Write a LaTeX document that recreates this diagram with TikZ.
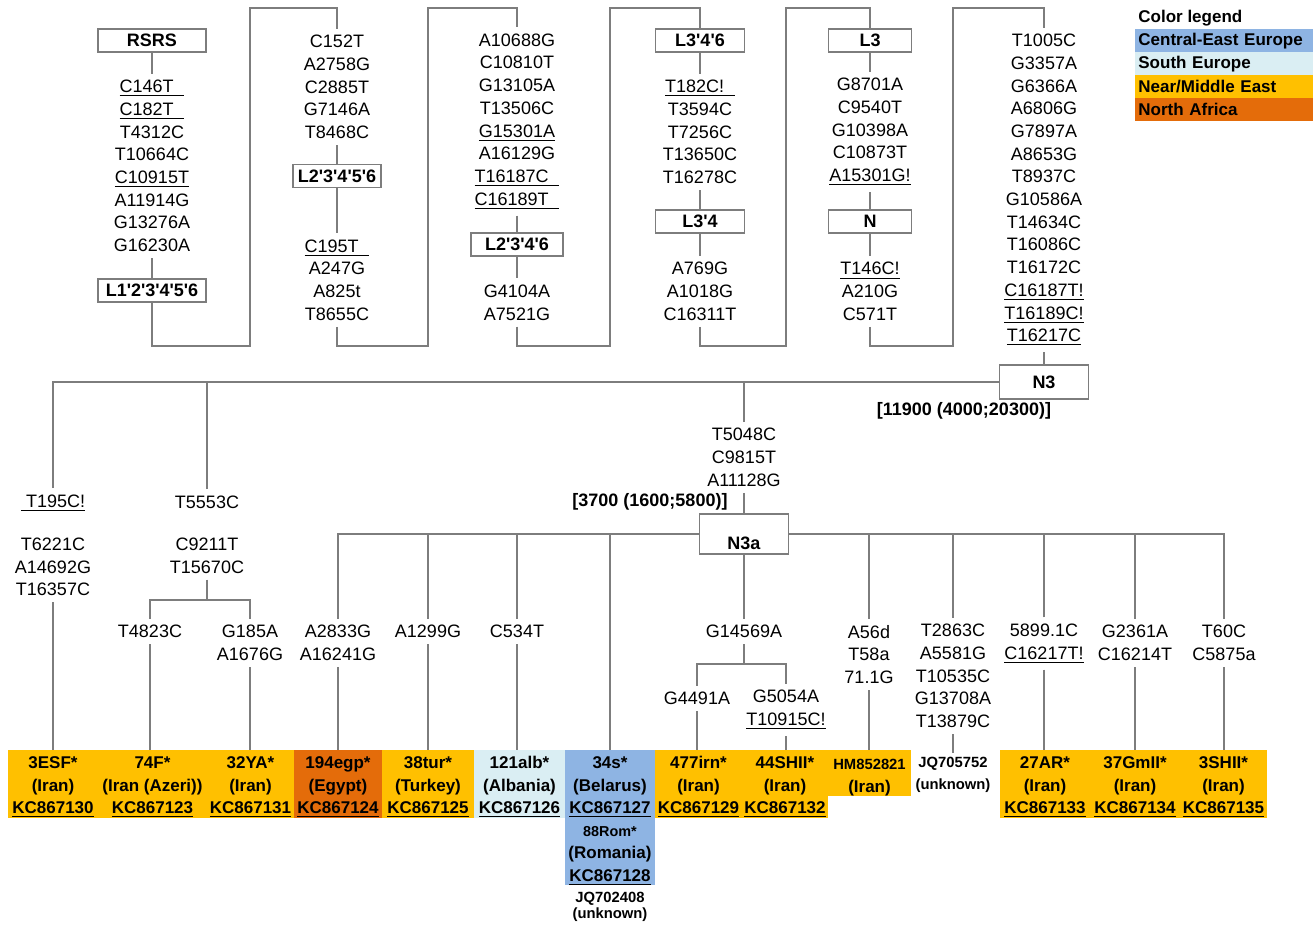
\documentclass[tikz,border=0pt]{standalone}
\usepackage{fontspec}
\setmainfont{Liberation Sans}
\newcommand\ap{\textquotesingle}
\newcommand\lst{\rule{0pt}{9.2pt}}
\definecolor{lc}{RGB}{125,125,125}
\definecolor{cee}{RGB}{142,180,227}
\definecolor{seu}{RGB}{218,238,243}
\definecolor{nme}{RGB}{255,192,0}
\definecolor{naf}{RGB}{228,108,10}
\begin{document}
\begin{tikzpicture}[x={(0.5pt,0)},y={(0,-0.5pt)},
  conn/.style={draw=lc, line width=0.6pt},
  box/.style={draw=lc, line width=0.6pt, fill=white, font=\fontsize{9}{11}\selectfont\bfseries, inner sep=0pt, minimum height=11.5pt},
  mut/.style={font=\fontsize{9}{11.35}\selectfont, align=center, inner xsep=0pt, inner ysep=3pt},
  datelab/.style={font=\fontsize{9}{11}\selectfont\bfseries, inner sep=0pt},
  leaf/.style={anchor=north, font=\fontsize{8.5}{11.25}\selectfont\bfseries, align=center, inner sep=0pt, minimum height=33.5pt},
  smalllab/.style={font=\fontsize{7.4}{8}\selectfont\bfseries, align=center, inner xsep=0pt, inner ysep=2pt},
  legrow/.style={anchor=north west, font=\fontsize{8.5}{10}\selectfont\bfseries, text width=86pt, align=left, inner xsep=1.5pt, inner ysep=0pt, minimum height=11.5pt},
]
\path[use as bounding box] (0,0) rectangle (1314,925);

% ---------- top chain ----------
\node[box, minimum width=54pt] (rsrs) at (152,40.5) {RSRS};
\node[mut] (m1) at (152,166) {\underline{C146T\hspace{.6em}}\\\underline{C182T\hspace{.6em}}\\T4312C\\T10664C\\\underline{C10915T}\\A11914G\\G13276A\\G16230A};
\node[box, minimum width=54pt] (L1) at (152,290.5) {L1\ap2\ap3\ap4\ap5\ap6};

\node[mut] (m2a) at (337,87) {C152T\\A2758G\\C2885T\\G7146A\\T8468C};
\node[box, minimum width=44pt] (L2) at (337,176) {L2\ap3\ap4\ap5\ap6};
\node[mut] (m2b) at (337,280) {\underline{C195T\hspace{.6em}}\\A247G\\A825t\\T8655C};

\node[mut] (m3a) at (517,121.5) {A10688G\\C10810T\\G13105A\\T13506C\\\underline{G15301A}\\A16129G\\\underline{T16187C\hspace{.6em}}\\\underline{C16189T\hspace{.6em}}};
\node[box, minimum width=46pt] (L2346) at (517,244.5) {L2\ap3\ap4\ap6};
\node[mut] (m3b) at (517,302.5) {G4104A\\A7521G};

\node[box, minimum width=44.5pt] (L346) at (700,40.5) {L3\ap4\ap6};
\node[mut] (m4a) at (700,132) {\underline{T182C!\hspace{.6em}}\\T3594C\\T7256C\\T13650C\\T16278C};
\node[box, minimum width=44.5pt] (L34) at (700,221.5) {L3\ap4};
\node[mut] (m4b) at (700,291.5) {A769G\\A1018G\\C16311T};

\node[box, minimum width=41.5pt] (L3) at (870,40.5) {L3};
\node[mut] (m5a) at (870,132) {G8701A\\C9540T\\G10398A\\C10873T\\\underline{A15301G!}};
\node[box, minimum width=41.5pt] (N) at (870,221.5) {N};
\node[mut] (m5b) at (870,291.5) {\underline{T146C!}\\A210G\\C571T};

\node[mut] (m6) at (1044,190) {T1005C\\G3357A\\G6366A\\A6806G\\G7897A\\A8653G\\T8937C\\G10586A\\T14634C\\T16086C\\T16172C\\\underline{C16187T!}\\\underline{T16189C!}\\\underline{T16217C}};
\node[box, minimum width=44.5pt, minimum height=17pt] (N3) at (1044,382) {N3};
\node[datelab] (d1) at (964,411) {[11900 (4000;20300)]};

\draw[conn] (rsrs.south) -- (m1.north);
\draw[conn] (m1.south) -- (L1.north);
\draw[conn] (L1.south) |- (250,346) |- (337,8) -- (m2a.north);
\draw[conn] (m2a.south) -- (L2.north);
\draw[conn] (L2.south) -- (m2b.north);
\draw[conn] (m2b.south) |- (428,346) |- (517,8) -- (m3a.north);
\draw[conn] (m3a.south) -- (L2346.north);
\draw[conn] (L2346.south) -- (m3b.north);
\draw[conn] (m3b.south) |- (610,346) |- (700,8) -- (L346.north);
\draw[conn] (L346.south) -- (m4a.north);
\draw[conn] (m4a.south) -- (L34.north);
\draw[conn] (L34.south) -- (m4b.north);
\draw[conn] (m4b.south) |- (786,346) |- (870,8) -- (L3.north);
\draw[conn] (L3.south) -- (m5a.north);
\draw[conn] (m5a.south) -- (N.north);
\draw[conn] (N.south) -- (m5b.north);
\draw[conn] (m5b.south) |- (953,346) |- (1044,8) -- (m6.north);
\draw[conn] (m6.south) -- (N3.north);

% ---------- legend ----------
\node[anchor=west, font=\fontsize{8.5}{10}\selectfont\bfseries, inner sep=0pt] (lgt) at (1138,18) {Color legend};
\node[legrow, fill=cee] (lg1) at (1135,29) {Central-East Europe};
\node[legrow, fill=seu] (lg2) at (1135,52) {South Europe};
\node[legrow, fill=nme] (lg3) at (1135,75) {Near/Middle East};
\node[legrow, fill=naf] (lg4) at (1135,98) {North Africa};

% ---------- N3 subtree ----------
\node[mut] (t195) at (53,503) {\underline{\hspace{.3em}T195C!}};
\node[mut] (t195b) at (53,567) {T6221C\\A14692G\\T16357C};
\node[mut] (t5553) at (207,502) {T5553C};
\node[mut] (t5553b) at (207,555.5) {C9211T\\T15670C};
\node[mut] (t4823) at (150,631.5) {T4823C};
\node[mut] (g185) at (250,643) {G185A\\A1676G};
\node[mut] (n3am) at (744,457.5) {T5048C\\C9815T\\A11128G};
\node[datelab] (d2) at (650,502) {[3700 (1600;5800)]};
\node[box, minimum width=44.5pt, minimum height=20pt, text height=15.5pt, text depth=0pt] (N3a) at (744,534) {N3a};

\draw[conn] (t195.north) |- (N3.west);
\draw[conn] (t5553.north) |- (N3.west);
\draw[conn] (n3am.north) |- (N3.west);
\draw[conn] (n3am.south) -- (N3a.north);
\coordinate (j0) at (207,600);
\draw[conn] (t5553b.south) -- (j0);
\draw[conn] (t4823.north) |- (j0) -| (g185.north);

% N3a children
\node[mut] (a2833) at (338,643) {A2833G\\A16241G};
\node[mut] (a1299) at (428,631.5) {A1299G};
\node[mut] (c534) at (517,631.5) {C534T};
\node[mut] (g14569) at (744,631.5) {G14569A};
\node[mut] (g4491) at (697,698.5) {G4491A};
\node[mut] (g5054) at (786,710) {G5054A\\\underline{T10915C!}};
\node[mut] (a56d) at (869,654.5) {A56d\\T58a\\71.1G};
\node[mut] (t2863) at (953,676) {T2863C\\A5581G\\T10535C\\G13708A\\T13879C};
\node[mut] (s5899) at (1044,643.5) {5899.1C\\\underline{C16217T!}};
\node[mut] (g2361) at (1135,643) {G2361A\\C16214T};
\node[mut] (t60) at (1224,643) {T60C\\C5875a};

% leaves
\node[leaf, fill=nme, minimum width=45pt] (lf1) at (53,750) {\lst 3ESF*\\(Iran)\\\underline{KC867130}};
\node[leaf, fill=nme, minimum width=54.5pt] (lf2) at (152.5,750) {\lst 74F*\\(Iran (Azeri))\\\underline{KC867123}};
\node[leaf, fill=nme, minimum width=43.5pt] (lf3) at (250.5,750) {\lst 32YA*\\(Iran)\\\underline{KC867131}};
\node[leaf, fill=naf, minimum width=44pt] (lf4) at (338,750) {\lst 194egp*\\(Egypt)\\\underline{KC867124}};
\node[leaf, fill=nme, minimum width=46pt] (lf5) at (428,750) {\lst 38tur*\\(Turkey)\\\underline{KC867125}};
\node[leaf, fill=seu, minimum width=45.5pt] (lf6) at (519.5,750) {\lst 121alb*\\(Albania)\\\underline{KC867126}};
\node[leaf, fill=cee, minimum width=45pt, minimum height=67.5pt] (lf7) at (610,750) {\lst 34s*\\(Belarus)\\\underline{KC867127}\\{\fontsize{7.2}{11.25}\selectfont 88Rom*}\\(Romania)\\\underline{KC867128}};
\node[smalllab] (jq1) at (610,906.5) {JQ702408\\(unknown)};
\node[leaf, fill=nme, minimum width=43.5pt] (lf8) at (698.5,750) {\lst 477irn*\\(Iran)\\\underline{KC867129}};
\node[leaf, fill=nme, minimum width=43pt] (lf9) at (785,750) {\lst 44SHII*\\(Iran)\\\underline{KC867132}};
\node[leaf, fill=nme, minimum width=41.5pt, minimum height=23pt] (lf10) at (869.5,750) {{\fontsize{7.4}{11.25}\selectfont\lst HM852821}\\(Iran)};
\node[smalllab, font=\fontsize{7.4}{11}\selectfont\bfseries] (lf11) at (953,775) {JQ705752\\(unknown)};
\node[leaf, fill=nme, minimum width=45pt] (lf12) at (1045,750) {\lst 27AR*\\(Iran)\\\underline{KC867133}};
\node[leaf, fill=nme, minimum width=45pt] (lf13) at (1135,750) {\lst 37GmII*\\(Iran)\\\underline{KC867134}};
\node[leaf, fill=nme, minimum width=43.5pt] (lf14) at (1223.5,750) {\lst 3SHII*\\(Iran)\\\underline{KC867135}};

% N3a connectors
\draw[conn] (a2833.north) |- (N3a.west);
\draw[conn] (a1299.north) |- (N3a.west);
\draw[conn] (c534.north) |- (N3a.west);
\draw[conn] (lf7.north) |- (N3a.west);
\draw[conn] (N3a.south) -- (g14569.north);
\draw[conn] (a56d.north) |- (N3a.east);
\draw[conn] (t2863.north) |- (N3a.east);
\draw[conn] (s5899.north) |- (N3a.east);
\draw[conn] (g2361.north) |- (N3a.east);
\draw[conn] (t60.north) |- (N3a.east);
\coordinate (j1) at (744,664);
\draw[conn] (g14569.south) -- (j1);
\draw[conn] (g4491.north) |- (j1) -| (g5054.north);

% leaf connectors
\draw[conn] (t195b.south) -- (t195b.south |- lf1.north);
\draw[conn] (t4823.south) -- (t4823.south |- lf2.north);
\draw[conn] (g185.south) -- (g185.south |- lf3.north);
\draw[conn] (a2833.south) -- (a2833.south |- lf4.north);
\draw[conn] (a1299.south) -- (a1299.south |- lf5.north);
\draw[conn] (c534.south) -- (c534.south |- lf6.north);
\draw[conn] (g4491.south) -- (g4491.south |- lf8.north);
\draw[conn] (g5054.south) -- (g5054.south |- lf9.north);
\draw[conn] (a56d.south) -- (a56d.south |- lf10.north);
\draw[conn] (t2863.south) -- (lf11.north);
\draw[conn] (s5899.south) -- (s5899.south |- lf12.north);
\draw[conn] (g2361.south) -- (g2361.south |- lf13.north);
\draw[conn] (t60.south) -- (t60.south |- lf14.north);
\end{tikzpicture}
\end{document}
